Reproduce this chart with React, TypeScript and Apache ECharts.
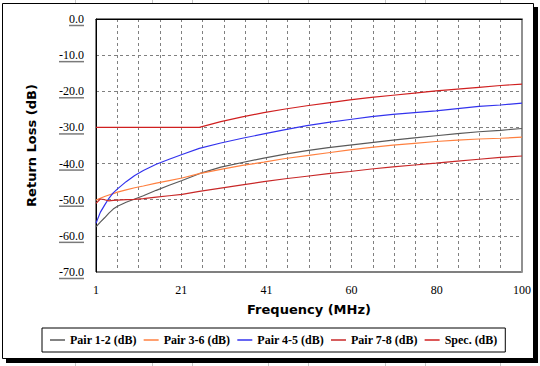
import React, { useEffect, useRef } from "react";
import * as echarts from "echarts";

// Frequency (MHz) sample points
const freq = [1, 2, 3, 4, 5, 6, 8, 10, 12, 15, 18, 21, 25, 30, 35, 40, 45, 50, 55, 60, 65, 70, 75, 80, 85, 90, 95, 100];

// Return loss values (dB)
const pair12 = [-57.5, -56.2, -55.0, -53.7, -52.6, -51.8, -50.7, -49.8, -48.9, -47.4, -46.0, -44.7, -42.8, -41.0, -39.7, -38.5, -37.4, -36.4, -35.6, -34.9, -34.2, -33.5, -32.9, -32.3, -31.7, -31.2, -30.8, -30.3];
const pair36 = [-50.1, -49.6, -49.1, -48.7, -48.3, -47.9, -47.3, -46.7, -46.2, -45.4, -44.7, -44.0, -42.8, -41.6, -40.5, -39.6, -38.6, -37.8, -37.0, -36.2, -35.5, -34.9, -34.4, -33.9, -33.5, -33.2, -33.0, -32.7];
const pair45 = [-56.5, -53.5, -51.5, -49.6, -48.1, -47.0, -45.0, -43.3, -41.9, -40.2, -38.8, -37.5, -35.8, -34.3, -33.0, -31.8, -30.6, -29.5, -28.6, -27.8, -27.0, -26.4, -25.9, -25.4, -24.8, -24.2, -23.8, -23.3];
const pair78 = [-51.0, -49.8, -50.0, -50.3, -50.2, -50.1, -50.0, -49.9, -49.7, -49.3, -48.9, -48.5, -47.7, -46.8, -45.9, -45.0, -44.2, -43.5, -42.8, -42.2, -41.5, -40.9, -40.4, -39.9, -39.3, -38.8, -38.3, -37.9];
const spec = [-30.0, -30.0, -30.0, -30.0, -30.0, -30.0, -30.0, -30.0, -30.0, -30.0, -30.0, -30.0, -30.0, -28.4, -27.1, -25.9, -24.9, -24.0, -23.2, -22.4, -21.7, -21.1, -20.5, -19.9, -19.4, -18.9, -18.4, -18.0];

const seriesNames = ["Pair 1-2 (dB)", "Pair 3-6 (dB)", "Pair 4-5 (dB)", "Pair 7-8 (dB)", "Spec. (dB)"];
const seriesValues = [pair12, pair36, pair45, pair78, spec];
const seriesColors = ["#5a5a5a", "#ff8040", "#3333ee", "#c82828", "#d02020"];

const xTickLabels = ["1", "21", "41", "60", "80", "100"];
const yTickValues = [0, -10, -20, -30, -40, -50, -60, -70];

const SERIF = "'Liberation Serif', 'Times New Roman', serif";
const SANS = "'DejaVu Sans', Verdana, sans-serif";

export default function App() {
  const ref = useRef<HTMLDivElement>(null);

  useEffect(() => {
    if (!ref.current) return;
    const chart = echarts.init(ref.current, undefined, { renderer: "svg" });

    const sheetLines = [75, 152, 192, 268, 308, 385, 425, 500].map((x) => ({
      type: "line",
      z: -20,
      shape: { x1: x + 0.5, y1: 0, x2: x + 0.5, y2: 366 },
      style: { stroke: "#c8c8c8", lineWidth: 1 },
    }));
    const frame = [
      { type: "rect", z: -15, shape: { x: 6, y: 7, width: 532, height: 356 }, style: { fill: "#000" } },
      { type: "rect", z: -14, shape: { x: 2.5, y: 3.5, width: 531, height: 355 }, style: { fill: "#fff", stroke: "#000", lineWidth: 1 } },
    ];

    const option: any = {
      animation: false,
      backgroundColor: "#fff",
      grid: { left: 96, top: 19, right: 18, bottom: 94, show: true, borderColor: "#000", borderWidth: 1, backgroundColor: "#fff" },
      legend: {
        left: 42,
        top: 328,
        orient: "horizontal",
        padding: [6, 8, 6, 8],
        itemGap: 7,
        itemWidth: 15,
        itemHeight: 1.5,
        icon: "rect",
        borderColor: "#000",
        borderWidth: 1,
        backgroundColor: "#fff",
        textStyle: { fontFamily: SERIF, fontWeight: "bold", fontSize: 12, color: "#000" },
        data: seriesNames,
      },
      xAxis: {
        type: "value",
        min: 0,
        max: 99,
        interval: 4.95,
        name: "Frequency (MHz)",
        nameLocation: "middle",
        nameGap: 31,
        nameTextStyle: { fontFamily: SANS, fontWeight: "bold", fontSize: 13, color: "#000" },
        axisLine: { show: true, lineStyle: { color: "#000", width: 1 } },
        axisTick: { show: false },
        axisLabel: {
          margin: 12,
          fontFamily: SERIF,
          fontSize: 12,
          color: "#000",
          formatter: (v: number) => {
            const idx = Math.round(v / 4.95);
            return idx % 4 === 0 ? xTickLabels[idx / 4] ?? "" : "";
          },
        },
        splitLine: { show: true, lineStyle: { color: "#808080", type: [3, 3], width: 1 } },
      },
      yAxis: [
        {
          type: "value",
          min: -70,
          max: 0,
          interval: 10,
          name: "Return Loss (dB)",
          nameLocation: "middle",
          nameGap: 58,
          nameTextStyle: { fontFamily: SANS, fontWeight: "bold", fontSize: 13, color: "#000" },
          axisLine: { show: true, lineStyle: { color: "#000", width: 1 } },
          axisTick: { show: false },
          axisLabel: {
            margin: 12,
            fontFamily: SERIF,
            fontSize: 12,
            color: "#000",
            formatter: (v: number) => v.toFixed(1),
          },
          splitLine: { show: true, lineStyle: { color: "#808080", type: [3, 3], width: 1 } },
        },
        {
          type: "value",
          min: -70,
          max: 0,
          interval: 10,
          position: "right",
          axisLine: { show: true, lineStyle: { color: "#909090", width: 2 } },
          axisTick: { show: false },
          axisLabel: { show: false },
          splitLine: { show: false },
        },
      ],
      series: seriesNames.map((name, si) => ({
        name,
        type: "line",
        symbol: "none",
        showSymbol: false,
        smooth: false,
        lineStyle: { width: 1.2, color: seriesColors[si] },
        itemStyle: { color: seriesColors[si] },
        data: freq.map((f, i) => [f - 1, seriesValues[si][i]]),
        z: 2 + (si === 4 ? 1 : 0),
      })),
      graphic: [...sheetLines, ...frame],
    };

    chart.setOption(option);

    // underline the y tick labels (Excel-style)
    const canvas = document.createElement("canvas");
    const ctx = canvas.getContext("2d");
    const underlines: any[] = [];
    if (ctx) {
      ctx.font = `12px ${SERIF}`;
      const x0 = chart.convertToPixel({ xAxisIndex: 0 }, 0) as number;
      const right = x0 - 12;
      yTickValues.forEach((v) => {
        const py = chart.convertToPixel({ yAxisIndex: 0 }, v) as number;
        const w = ctx.measureText(v.toFixed(1)).width;
        underlines.push({
          type: "line",
          z: 10,
          shape: { x1: right - w, y1: py + 6.5, x2: right, y2: py + 6.5 },
          style: { stroke: "#7a7a7a", lineWidth: 1.5 },
        });
      });
    }
    chart.setOption({ graphic: [...sheetLines, ...frame, ...underlines] });

    return () => chart.dispose();
  }, []);

  return <div ref={ref} style={{ position: "absolute", left: 0, top: 0, width: 540, height: 366 }} />;
}
